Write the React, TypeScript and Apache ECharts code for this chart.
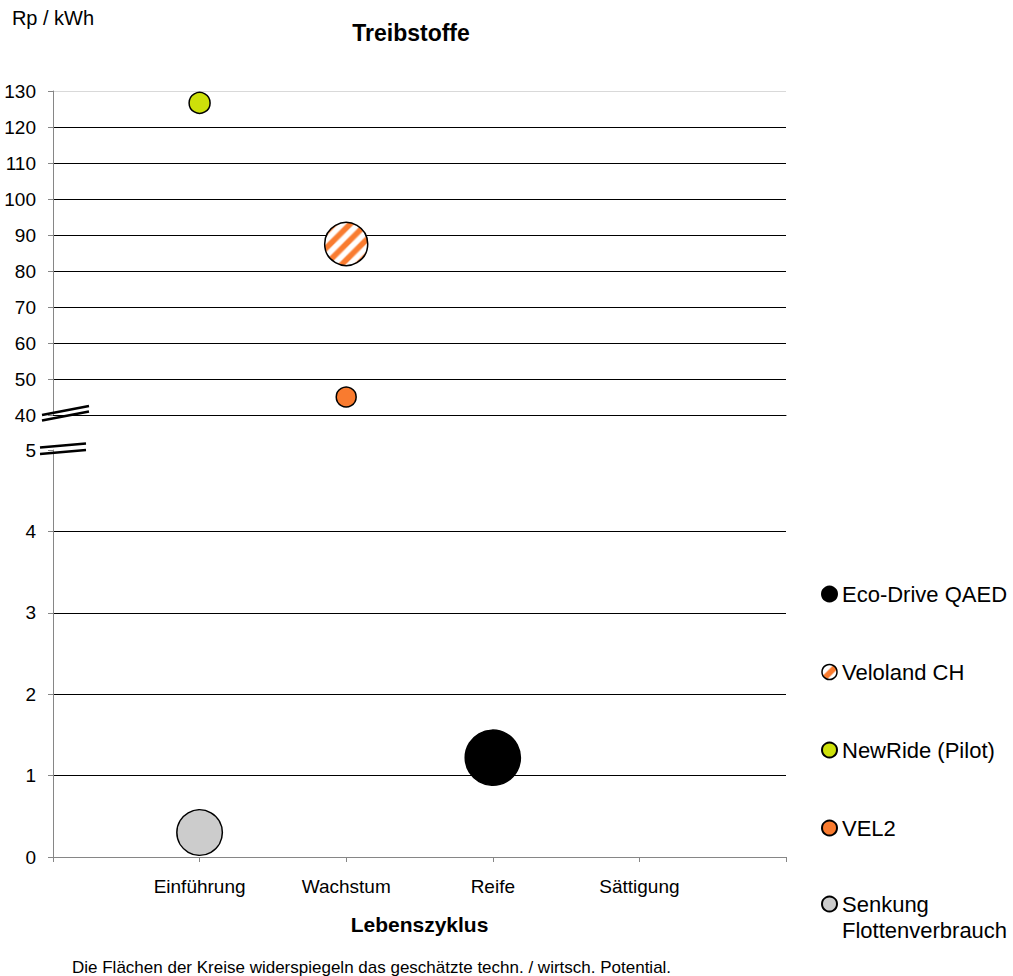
import React, { useEffect, useRef } from 'react';
import * as echarts from 'echarts';

// ---- data ----
const stages = ['Einführung', 'Wachstum', 'Reife', 'Sättigung'];
const seriesNames = ['Eco-Drive QAED', 'Veloland CH', 'NewRide (Pilot)', 'VEL2', 'Senkung Flottenverbrauch'];
const stagePosition = [3, 2, 1, 2, 1];
const costRpPerKWh = [1.22, 87.5, 126.7, 45, 0.3];
const potential = [6.9, 4.2, 1.0, 0.9, 4.7];
const inUpperPanel = [false, true, true, true, false];
const upperAxis = { min: 40, max: 130, interval: 10 };
const lowerAxis = { min: 0, max: 5, interval: 1 };
const stageAxis = { min: 0, max: 5, interval: 1 };

const FONT = '"Liberation Sans", Arial, sans-serif';
const fills = ['#000000', 'stripes', '#cde00a', '#f97b2f', '#cccccc'];

function stripeCanvas() {
  const s = 16;
  const c = document.createElement('canvas');
  c.width = s;
  c.height = s;
  const ctx = c.getContext('2d')!;
  ctx.fillStyle = '#ffffff';
  ctx.fillRect(0, 0, s, s);
  ctx.strokeStyle = '#f97b2f';
  ctx.lineWidth = s / (2 * Math.SQRT2);
  for (const k of [-1, 0, 1]) {
    ctx.beginPath();
    ctx.moveTo(k * s - s, 2 * s);
    ctx.lineTo(k * s + 2 * s, -s);
    ctx.stroke();
  }
  return c;
}

export default function App() {
  const ref = useRef<HTMLDivElement>(null);
  useEffect(() => {
    document.body.style.margin = '0';
    const chart = echarts.init(ref.current!, null, { renderer: 'svg' });
    const canvas = stripeCanvas();
    const patternFor = (size: number) => ({ image: canvas, repeat: 'repeat', scaleX: 2 / size, scaleY: 2 / size });
    const legendPattern = { image: canvas, repeat: 'repeat' };
    const upperCount = (upperAxis.max - upperAxis.min) / upperAxis.interval + 1;
    const upperColors = Array.from({ length: upperCount }, (_, i) => (i === upperCount - 1 ? '#d9d9d9' : '#000000'));
    const lowerCount = (lowerAxis.max - lowerAxis.min) / lowerAxis.interval + 1;
    const lowerColors = Array.from({ length: lowerCount }, (_, i) =>
      i === lowerCount - 1 ? 'rgba(0,0,0,0)' : i === 0 ? '#868686' : '#000000'
    );
    const axisText = { fontFamily: FONT, fontSize: 19, color: '#000' };
    const breakLine = (x1: number, y1: number, x2: number, y2: number) => ({
      type: 'line',
      shape: { x1, y1, x2, y2 },
      style: { stroke: '#000', lineWidth: 2.5 },
      z: 100,
    });
    const legendData = (names: string[]) =>
      names.map((name) => {
        const i = seriesNames.indexOf(name);
        return fills[i] === 'stripes'
          ? { name, itemStyle: { color: legendPattern, borderColor: '#000', borderWidth: 1.5 } }
          : { name };
      });
    chart.setOption({
      animation: false,
      backgroundColor: '#ffffff',
      textStyle: { fontFamily: FONT },
      grid: [
        { left: 53, top: 91, width: 733, height: 324 },
        { left: 53, top: 450, width: 733, height: 407 },
      ],
      xAxis: [
        {
          type: 'value', gridIndex: 0, ...stageAxis,
          axisLine: { show: true, lineStyle: { color: '#000', width: 1 } },
          axisTick: { show: false }, axisLabel: { show: false }, splitLine: { show: false },
        },
        {
          type: 'value', gridIndex: 1, ...stageAxis,
          name: 'Lebenszyklus', nameLocation: 'middle', nameGap: 57,
          nameTextStyle: { fontFamily: FONT, fontSize: 21, fontWeight: 'bold', color: '#000' },
          axisLine: { show: true, lineStyle: { color: '#868686', width: 1 } },
          axisTick: { show: true, length: 5, lineStyle: { color: '#868686' } },
          axisLabel: {
            ...axisText, margin: 20,
            formatter: (v: number) => stages[v - 1] ?? '',
          },
          splitLine: { show: false },
        },
      ],
      yAxis: [
        {
          type: 'value', gridIndex: 0, ...upperAxis,
          name: 'Rp / kWh', nameLocation: 'end', nameGap: 63,
          nameTextStyle: { fontFamily: FONT, fontSize: 20, color: '#000', align: 'center' },
          axisLine: { show: true, lineStyle: { color: '#868686', width: 1 } },
          axisTick: { show: true, length: 5, lineStyle: { color: '#868686' } },
          axisLabel: { ...axisText, margin: 17 },
          splitLine: { show: true, lineStyle: { color: upperColors, width: 1 } },
        },
        {
          type: 'value', gridIndex: 1, ...lowerAxis,
          axisLine: { show: true, lineStyle: { color: '#868686', width: 1 } },
          axisTick: { show: true, length: 5, lineStyle: { color: '#868686' } },
          axisLabel: { ...axisText, margin: 17 },
          splitLine: { show: true, lineStyle: { color: lowerColors, width: 1 } },
        },
      ],
      legend: [
        {
          data: legendData(seriesNames.slice(0, 4)),
          orient: 'vertical', left: 821, top: 582, padding: 0,
          itemWidth: 15, itemHeight: 15, itemGap: 54, icon: 'circle', selectedMode: false,
          textStyle: { fontFamily: FONT, fontSize: 22, lineHeight: 24, color: '#000' },
        },
        {
          data: legendData(seriesNames.slice(4)),
          orient: 'vertical', left: 821, top: 865, padding: 0,
          itemWidth: 15, itemHeight: 15, icon: 'circle', selectedMode: false,
          formatter: (name: string) => '\n' + name.replace(' ', '\n'),
          textStyle: { fontFamily: FONT, fontSize: 22, lineHeight: 26, color: '#000' },
        },
      ],
      series: seriesNames.map((name, i) => {
        const panel = inUpperPanel[i] ? 0 : 1;
        const size = 21 * Math.sqrt(potential[i]);
        return {
          type: 'scatter',
          name,
          xAxisIndex: panel,
          yAxisIndex: panel,
          data: [[stagePosition[i], costRpPerKWh[i]]],
          symbol: 'circle',
          symbolSize: size,
          itemStyle: {
            color: fills[i] === 'stripes' ? patternFor(size) : fills[i],
            borderColor: '#000',
            borderWidth: 1.5,
            opacity: 1,
          },
          emphasis: { disabled: true },
          z: 5,
        };
      }),
      graphic: [
        {
          type: 'text', x: 411, y: 33,
          style: { text: 'Treibstoffe', font: `bold 23px ${FONT}`, fill: '#000', align: 'center', verticalAlign: 'middle' },
        },
        {
          type: 'text', x: 72, y: 967,
          style: {
            text: 'Die Flächen der Kreise widerspiegeln das geschätzte techn. / wirtsch. Potential.',
            font: `17px ${FONT}`, fill: '#000', align: 'left', verticalAlign: 'middle',
          },
        },
        breakLine(42, 415, 89, 406),
        breakLine(42, 420.5, 89, 411.5),
        breakLine(40, 447.5, 86, 443.5),
        breakLine(40, 454, 86, 450),
      ],
    });
    return () => chart.dispose();
  }, []);
  return <div ref={ref} style={{ width: 1013, height: 976 }} />;
}
